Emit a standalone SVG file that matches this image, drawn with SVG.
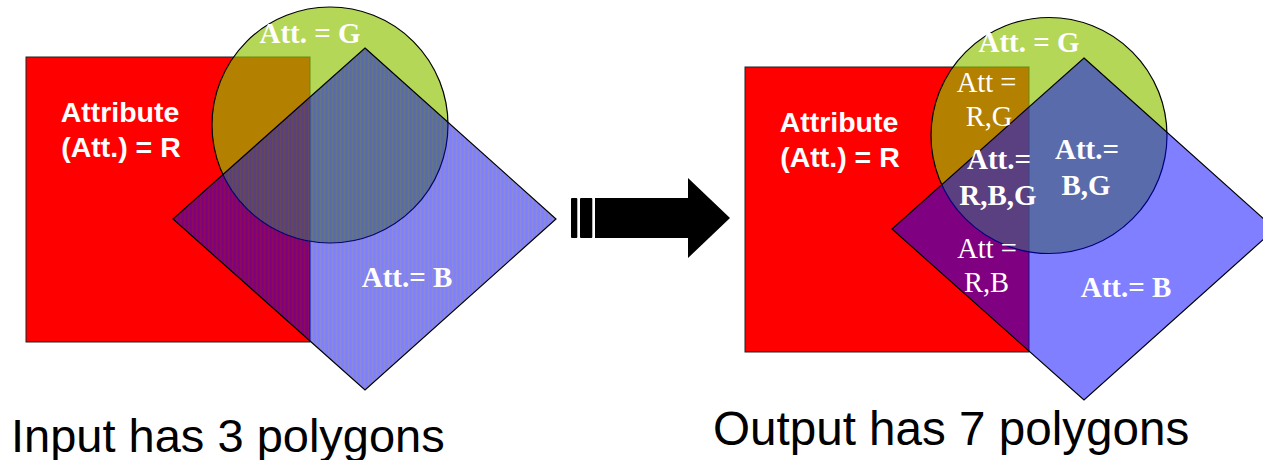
<svg xmlns="http://www.w3.org/2000/svg" width="1263" height="460" viewBox="0 0 1263 460">
  <style>
    .rect-r { fill: #FF0000; stroke: #222; stroke-width: 1; }
    .circ-g { fill: #8DC200; fill-opacity: 0.66; stroke: #000; stroke-width: 1.2; }
    .dia-b { fill: #0000FF; fill-opacity: 0.5; stroke: #000; stroke-width: 1.2; }
    .dia-b-striped { fill: url(#vstripes); fill-opacity: 0.5; stroke: #000; stroke-width: 1.2; }
    .lbl-sans { font-family: "Liberation Sans", Arial, sans-serif; font-weight: bold; font-size: 28.5px; fill: #fff; text-anchor: middle; }
    .lbl-serif-b { font-family: "Liberation Serif", "Times New Roman", serif; font-weight: bold; font-size: 29px; fill: #fff; text-anchor: middle; }
    .lbl-serif { font-family: "Liberation Serif", "Times New Roman", serif; font-size: 28.5px; fill: #fff; text-anchor: middle; }
    .caption { font-family: "Liberation Sans", Arial, sans-serif; font-size: 47px; fill: #000; }
    .arrow { fill: #000; }
  </style>
  <defs>
    <!-- vertical hatching used by the input polygon B -->
    <pattern id="vstripes" width="4" height="10" patternUnits="userSpaceOnUse">
      <rect width="4" height="10" fill="#0000FF"/>
      <rect x="0" width="1.3" height="10" fill="#1515B0"/>
    </pattern>
  </defs>

  <rect width="1263" height="460" fill="#fff"/>

  <!-- input layer: three polygons -->
  <g id="input-R">
    <rect class="rect-r" x="26" y="57" width="284" height="285"/>
  </g>
  <g id="input-G">
    <circle class="circ-g" cx="330" cy="125" r="118"/>
  </g>
  <g id="input-B">
    <polygon class="dia-b-striped" points="365,48 556,219 365,390 173,219"/>
  </g>
  <g id="input-labels">
    <text class="lbl-sans" x="120" y="122">Attribute</text>
    <text class="lbl-sans" x="121" y="157">(Att.) = R</text>
    <text class="lbl-serif-b" x="310" y="43">Att. = G</text>
    <text class="lbl-serif-b" x="407" y="287">Att.= B</text>
  </g>

  <!-- block arrow between input and output -->
  <g id="connectors">
    <rect class="arrow" x="571" y="198" width="6.3" height="40" rx="1"/>
    <rect class="arrow" x="580" y="198" width="12.3" height="40" rx="1"/>
    <polygon class="arrow" points="595,198 688,198 688,178 730,218 688,258 688,238 595,238"/>
  </g>

  <!-- output layer: seven polygons from the overlay -->
  <g id="output-R">
    <rect class="rect-r" x="745" y="67" width="284" height="285"/>
  </g>
  <g id="output-G">
    <circle class="circ-g" cx="1049" cy="135.5" r="118"/>
  </g>
  <g id="output-B">
    <polygon class="dia-b" points="1084,58 1275,229 1084,400 892,229"/>
  </g>
  <g id="output-labels">
    <text class="lbl-sans" x="839" y="132">Attribute</text>
    <text class="lbl-sans" x="840" y="167">(Att.) = R</text>
    <text class="lbl-serif-b" x="1029" y="52">Att. = G</text>
    <text class="lbl-serif" x="986.5" y="92">Att =</text>
    <text class="lbl-serif" x="989" y="126">R,G</text>
    <text class="lbl-serif-b" x="999" y="169">Att.=</text>
    <text class="lbl-serif-b" x="998" y="205">R,B,G</text>
    <text class="lbl-serif-b" x="1087" y="159">Att.=</text>
    <text class="lbl-serif-b" x="1086" y="195">B,G</text>
    <text class="lbl-serif" x="987" y="258">Att =</text>
    <text class="lbl-serif" x="986.5" y="292">R,B</text>
    <text class="lbl-serif-b" x="1126" y="297">Att.= B</text>
  </g>

  <g id="captions">
    <text class="caption" x="11" y="452">Input has 3 polygons</text>
    <text class="caption" x="713" y="445" style="font-size:47.6px">Output has 7 polygons</text>
  </g>
</svg>
